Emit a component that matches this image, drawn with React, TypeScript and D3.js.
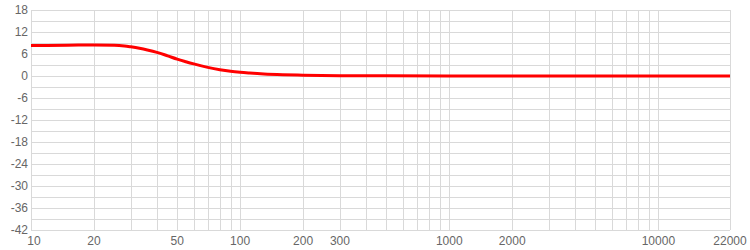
import React from "react";
import * as d3 from "d3";

const freqs = [10, 15, 20, 25, 28, 30, 33, 36, 40, 45, 50, 55, 60, 70, 80, 90, 100, 111, 130, 160, 200, 300, 500, 1000, 3000, 22000];
const gains = [8.3, 8.4, 8.45, 8.4, 8.2, 7.95, 7.55, 7.1, 6.45, 5.5, 4.6, 3.9, 3.3, 2.35, 1.7, 1.27, 1.0, 0.8, 0.55, 0.35, 0.22, 0.1, 0.04, 0.01, 0, 0];

const xTickLabels = [10, 20, 50, 100, 200, 300, 1000, 2000, 10000, 22000];
const yTickLabels = [18, 12, 6, 0, -6, -12, -18, -24, -30, -36, -42];
const yGridValues = d3.range(-42, 19, 3);
const xGridValues = [
  ...d3.range(10, 100, 10),
  ...d3.range(100, 1000, 100),
  ...d3.range(1000, 10000, 1000),
  10000,
  22000,
];

const W = 750;
const H = 250;
const left = 31;
const right = 730;
const top = 10;
const bottom = 230;

export default function App() {
  const x = d3.scaleLog().domain([10, 22000]).range([left, right]);
  const y = d3.scaleLinear().domain([-42, 18]).range([bottom, top]);
  const pts: [number, number][] = freqs.map((f, i) => [f, gains[i]]);
  const line = d3
    .line<[number, number]>()
    .x((d) => x(d[0]))
    .y((d) => y(d[1]))
    .curve(d3.curveMonotoneX);
  const gridColor = "#d9d9d9";
  const textColor = "#666";
  const font = "'Liberation Sans', Arial, sans-serif";
  return (
    <svg
      width={W}
      height={H}
      style={{ position: "absolute", left: 0, top: 0 }}
      fontFamily={font}
      fontSize={12}
    >
      <rect x={0} y={0} width={W} height={H} fill="#fff" />
      {yGridValues.map((v) => (
        <line
          key={"yg" + v}
          x1={left}
          x2={right}
          y1={Math.round(y(v)) + 0.5}
          y2={Math.round(y(v)) + 0.5}
          stroke={gridColor}
          strokeWidth={1}
        />
      ))}
      {xGridValues.map((v) => (
        <line
          key={"xg" + v}
          x1={Math.round(x(v)) + 0.5}
          x2={Math.round(x(v)) + 0.5}
          y1={top}
          y2={bottom}
          stroke={gridColor}
          strokeWidth={1}
        />
      ))}
      {yTickLabels.map((v) => (
        <text
          key={"yl" + v}
          x={28}
          y={y(v)}
          textAnchor="end"
          dominantBaseline="central"
          fill={textColor}
        >
          {v}
        </text>
      ))}
      {xTickLabels.map((v) => (
        <text
          key={"xl" + v}
          x={v === 10 ? x(v) + 3 : x(v)}
          y={241}
          textAnchor="middle"
          dominantBaseline="central"
          fill={textColor}
        >
          {v}
        </text>
      ))}
      <path d={line(pts) || ""} fill="none" stroke="#ff0000" strokeWidth={3} strokeLinejoin="round" />
    </svg>
  );
}
